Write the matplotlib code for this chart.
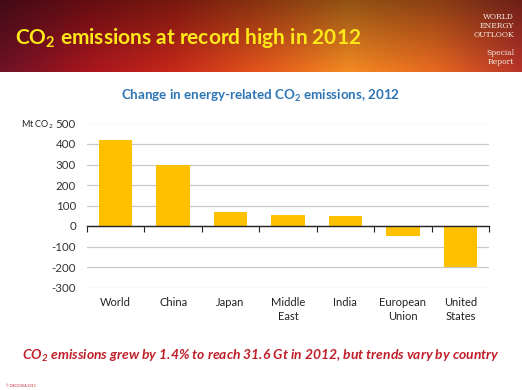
import numpy as np
import matplotlib.pyplot as plt
from matplotlib.colors import LinearSegmentedColormap
from matplotlib.transforms import blended_transform_factory

plt.rcParams['font.family'] = ['Lato', 'DejaVu Sans']

# data
regions = ['World', 'China', 'Japan', 'Middle\nEast', 'India', 'European\nUnion', 'United\nStates']
change = [420, 300, 66, 56, 50, -48, -200]
yticks = [-300, -200, -100, 0, 100, 200, 300, 400, 500]

W, H = 522, 390
fig = plt.figure(figsize=(W / 100, H / 100), dpi=100)

# banner at the top
bax = fig.add_axes([0, 1 - 72 / H, 1, 72 / H])
cmap = LinearSegmentedColormap.from_list(
    'banner', ['#6e1226', '#a8161e', '#c8281a', '#e4561c', '#f48a22', '#e86a20', '#b8342a'])
xs = np.linspace(0, 1, 400)
ys = np.linspace(0, 1, 60)[:, None]
img = cmap(np.tile(xs, (60, 1)))
shade = 0.6 + 0.4 * ys  # darker toward the top
img[..., :3] *= shade[..., None]
bax.imshow(img, aspect='auto', extent=[0, 1, 0, 1], origin='upper')
bax.set_xlim(0, 1)
bax.set_ylim(0, 1)
bax.axis('off')
bax.text(0.028, 0.47, 'CO$_\\mathregular{2}$ emissions at record high in 2012',
         color='#FFE81A', fontsize=15, fontweight='bold', va='center', ha='left')
bax.text(0.985, 0.64, 'WORLD\nENERGY\nOUTLOOK', color='#f4e8e0', fontsize=5.5,
         family='DejaVu Serif', ha='right', va='center', linespacing=1.1)
bax.text(0.985, 0.2, 'Special\nReport', color='#f4e8e0', fontsize=5.5,
         family='DejaVu Serif', ha='right', va='center', linespacing=1.1)

# subtitle
fig.text(0.5, 1 - 96 / H, 'Change in energy-related CO$_\\mathregular{2}$ emissions, 2012',
         color='#2E75B6', fontsize=9.6, fontweight='bold', ha='center', va='center')

# chart
ax = fig.add_axes([87 / W, (H - 287.5) / H, (489 - 87) / W, 164 / H])
x = np.arange(len(regions))
ax.bar(x, change, width=0.58, color='#FFC000', zorder=2)
ax.set_xlim(-0.5, len(regions) - 0.5)
ax.set_ylim(-300, 500)
ax.set_yticks(yticks)
ax.set_yticklabels([str(v) for v in yticks], fontsize=8.3, color='#333333')
ax.tick_params(axis='y', length=0, pad=8)
ax.grid(axis='y', color='#C8C8C8', linewidth=0.9, zorder=0)
for s in ['top', 'right', 'left']:
    ax.spines[s].set_visible(False)
ax.spines['bottom'].set_position(('data', 0))
ax.spines['bottom'].set_color('#222222')
ax.spines['bottom'].set_linewidth(1.0)
ax.spines['bottom'].set_zorder(3)
ax.set_xticks(np.arange(-0.5, len(regions), 1.0))
ax.set_xticklabels([])
ax.tick_params(axis='x', direction='out', length=4, color='#222222')

tr = blended_transform_factory(ax.transData, ax.transAxes)
for xi, lab in zip(x, regions):
    ax.text(xi, -0.06, lab, transform=tr, ha='center', va='top',
            fontsize=8, color='#222222', linespacing=1.35)

fig.text(21 / W, 1 - 125 / H, 'Mt CO$_\\mathregular{2}$', fontsize=6.5, color='#222222',
         ha='left', va='center')

# bottom caption
fig.text(0.5, 1 - 356 / H,
         'CO$_\\mathregular{2}$ emissions grew by 1.4% to reach 31.6 Gt in 2012, but trends vary by country',
         color='#C0202A', fontsize=10, fontweight='bold', style='italic',
         ha='center', va='center')
fig.text(6 / W, 1 - 386 / H, '\u00a9 OECD/IEA 2013', color='#C0202A', fontsize=2.5,
         ha='left', va='center')

fig.savefig('out.png', dpi=100)
